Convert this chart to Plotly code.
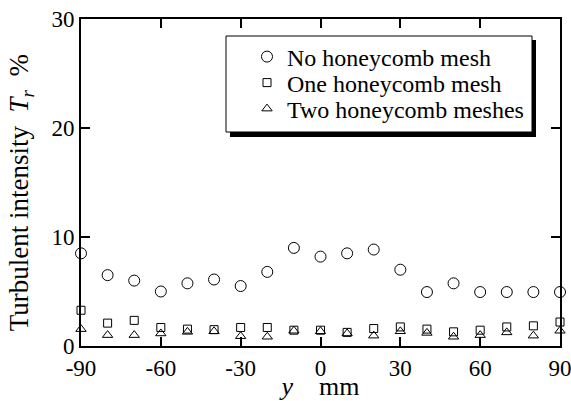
import plotly.graph_objects as go

y_pos = [-90, -80, -70, -60, -50, -40, -30, -20, -10, 0, 10, 20, 30, 40, 50, 60, 70, 80, 90]
no_mesh = [8.5, 6.5, 6.0, 5.0, 5.75, 6.1, 5.5, 6.8, 9.0, 8.2, 8.5, 8.85, 7.0, 4.95, 5.75, 4.95, 4.95, 4.95, 4.95]
one_mesh = [3.28, 2.1, 2.35, 1.7, 1.55, 1.5, 1.7, 1.7, 1.45, 1.45, 1.25, 1.6, 1.75, 1.55, 1.3, 1.45, 1.75, 1.85, 2.2]
two_mesh = [1.55, 1.0, 1.0, 1.15, 1.3, 1.35, 0.9, 0.85, 1.4, 1.35, 1.15, 0.95, 1.35, 1.2, 0.85, 1.0, 1.25, 0.95, 1.4]
series_names = ["No honeycomb mesh", "One honeycomb mesh", "Two honeycomb meshes"]
x_ticks = [-90, -60, -30, 0, 30, 60, 90]
y_ticks = [0, 10, 20, 30]

FONT = "Liberation Serif"
W, H = 571, 401
L, R, T, B = 81, 11, 19, 55
PW, PH = W - L - R, H - T - B

def px(x):
    return (x - L) / PW

def py(y):
    return (H - B - y) / PH

fig = go.Figure()
styles = [("circle-open", 11), ("square-open", 8), ("triangle-up-open", 9)]
legend_ids = ["legend", "legend2", "legend3"]
row_y = [57, 83, 109]
for name, vals, (sym, sz), lg in zip(series_names, [no_mesh, one_mesh, two_mesh], styles, legend_ids):
    fig.add_trace(go.Scatter(
        x=y_pos, y=vals, mode="markers", name=name, cliponaxis=False, legend=lg,
        marker=dict(symbol=sym, size=sz, color="black", line=dict(color="black", width=1)),
    ))

# legend box with shadow
fig.add_shape(type="rect", xref="paper", yref="paper", layer="above",
              x0=px(230), x1=px(536), y0=py(137), y1=py(40),
              fillcolor="black", line=dict(width=0))
fig.add_shape(type="rect", xref="paper", yref="paper", layer="above",
              x0=px(226), x1=px(532), y0=py(132), y1=py(36),
              fillcolor="white", line=dict(color="black", width=1))

legend_common = dict(xanchor="left", yanchor="middle", bgcolor="rgba(0,0,0,0)", borderwidth=0,
                     font=dict(family=FONT, size=24, color="black"), itemsizing="trace")
legends = {}
for lg, ry in zip(legend_ids, row_y):
    legends[lg] = dict(x=px(247), y=py(ry), **legend_common)

fig.update_layout(
    width=W, height=H,
    margin=dict(l=L, r=R, t=T, b=B, autoexpand=False),
    paper_bgcolor="white", plot_bgcolor="white",
    font=dict(family=FONT, size=22, color="black"),
    showlegend=True,
    **legends,
    xaxis=dict(range=[-90, 90], tickvals=x_ticks, ticktext=[str(v) for v in x_ticks],
               ticks="inside", ticklen=9, tickwidth=1.5, tickcolor="black",
               showline=True, linecolor="black", linewidth=2, mirror="allticks",
               showgrid=False, zeroline=False, automargin=False, ticklabeloverflow="allow",
               tickfont=dict(family=FONT, size=23),
               title=dict(text="<i>y</i>    mm", font=dict(family=FONT, size=26))),
    yaxis=dict(range=[0, 30], tickvals=y_ticks,
               ticks="inside", ticklen=9, tickwidth=1.5, tickcolor="black",
               showline=True, linecolor="black", linewidth=2, mirror="allticks",
               showgrid=False, zeroline=False, automargin=False, ticklabeloverflow="allow",
               tickfont=dict(family=FONT, size=23),
               title=dict(text="Turbulent intensity  <i>T<sub>r</sub></i>  %&nbsp;&nbsp;&nbsp;",
                          font=dict(family=FONT, size=27))),
)

fig.write_html("out.html")
